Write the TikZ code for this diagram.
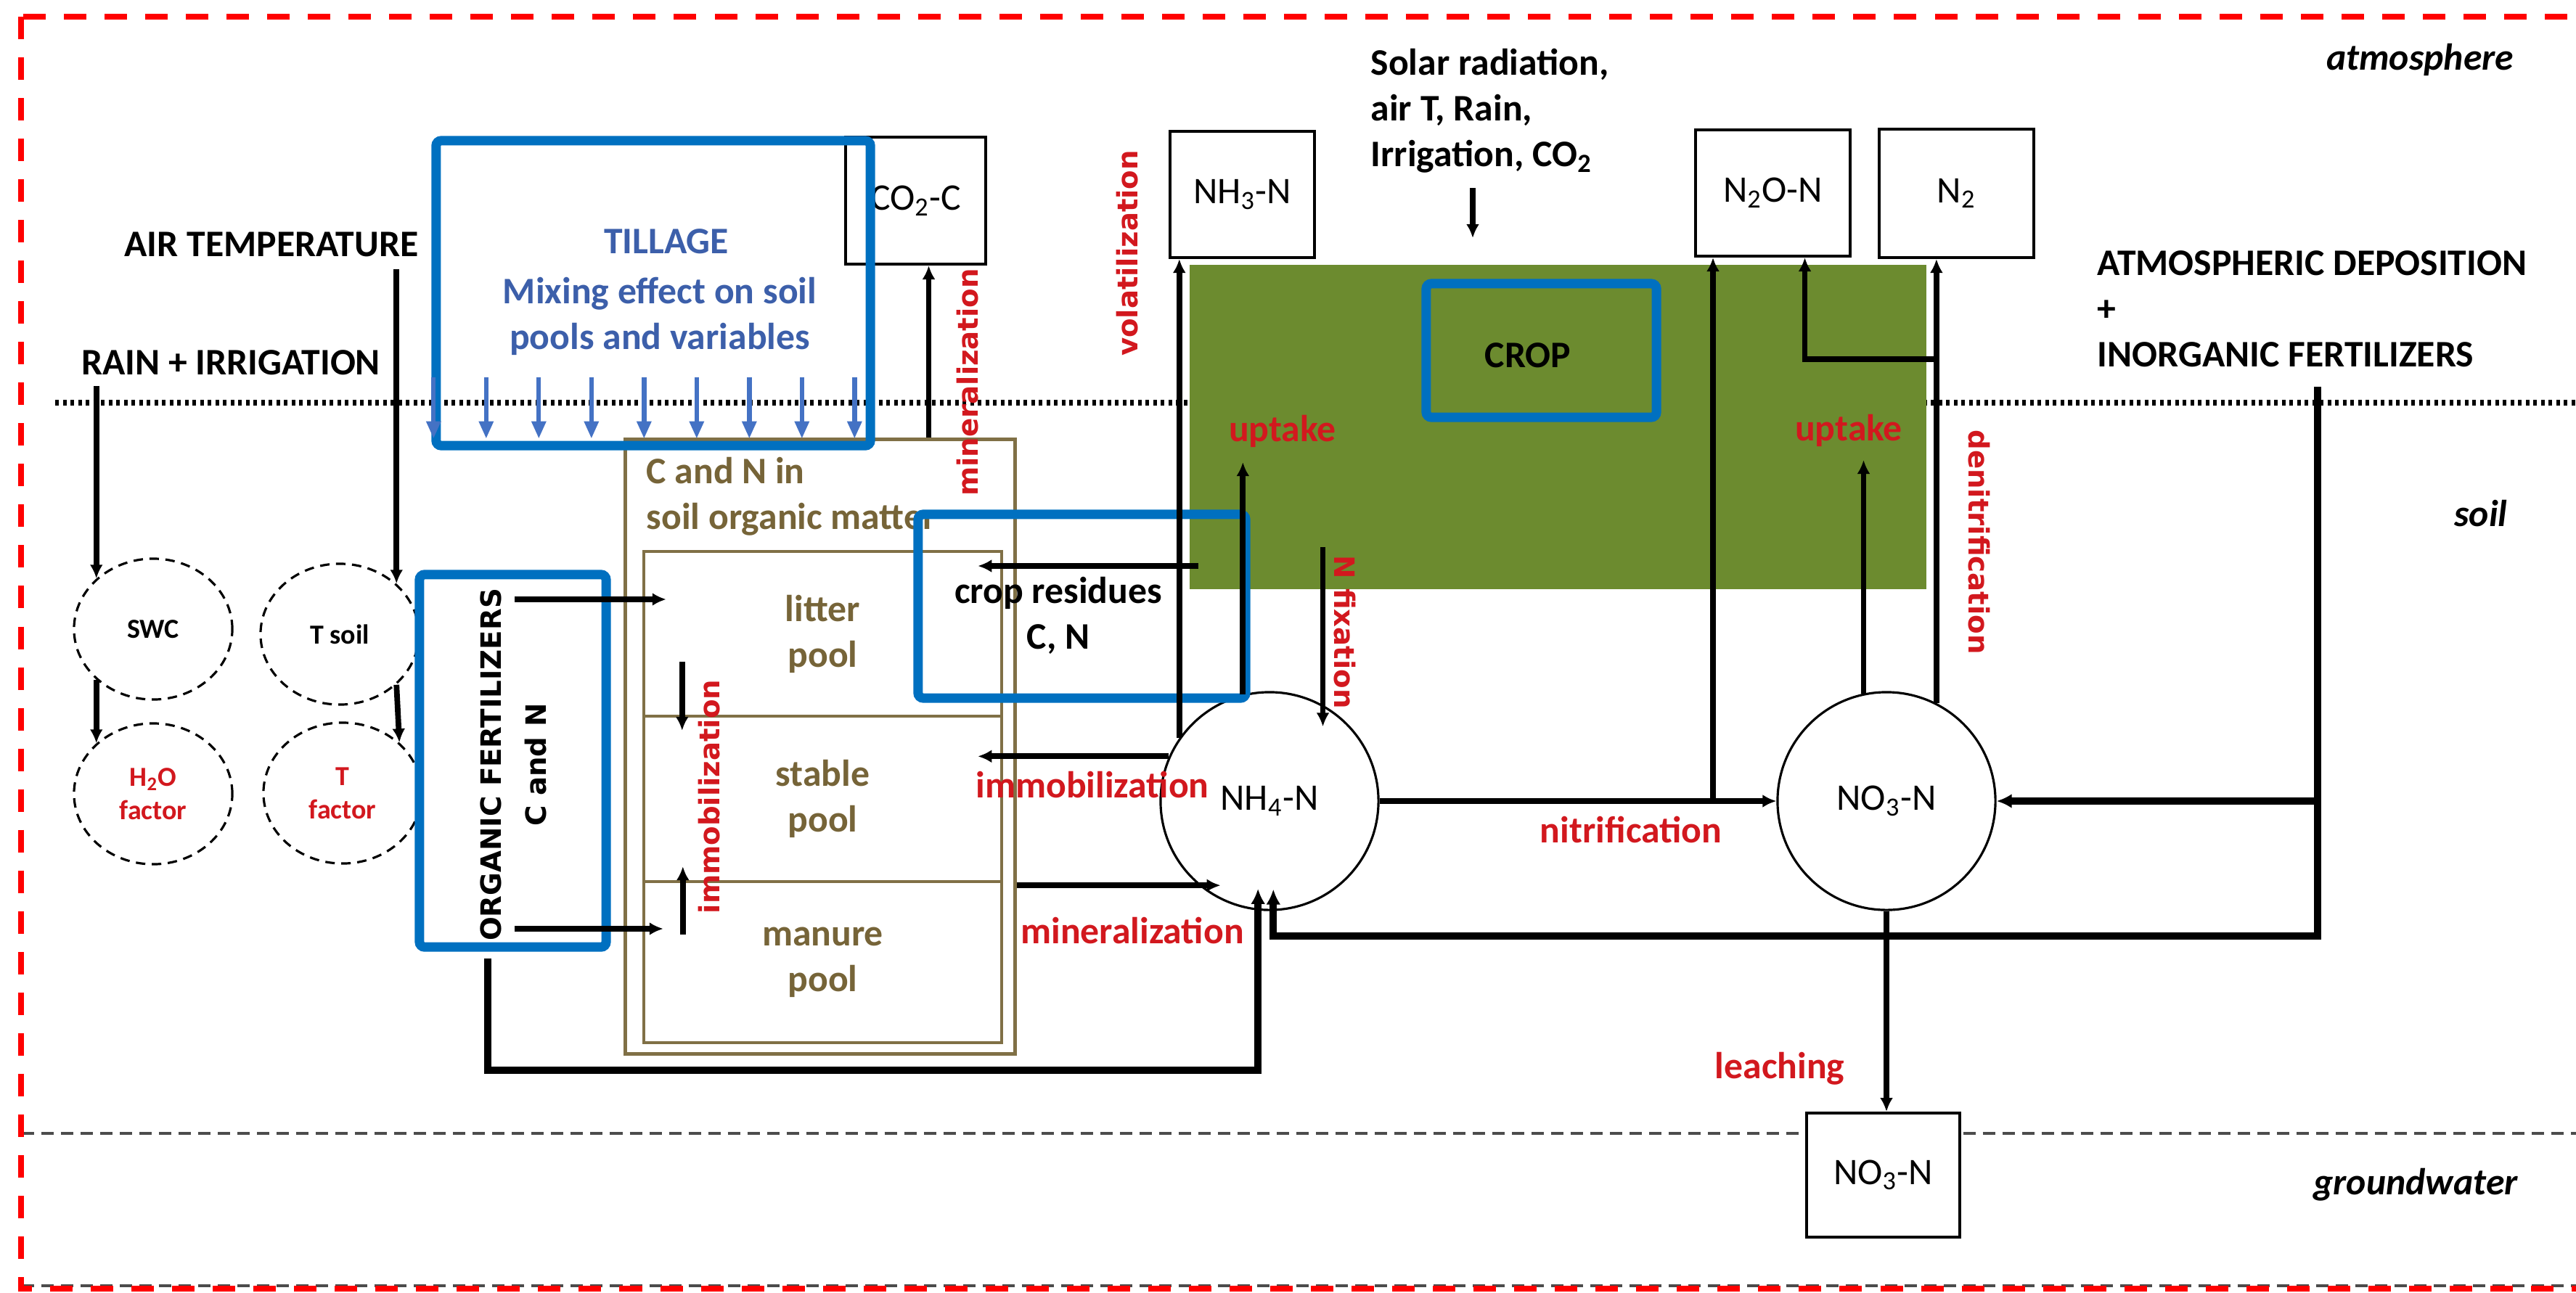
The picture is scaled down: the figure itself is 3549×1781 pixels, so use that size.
\documentclass[tikz,border=0pt]{standalone}
\usepackage{fontspec}
\setmainfont{Carlito}
\newfontfamily\vfont{DejaVu Sans}
\usepackage{tikz}
\usetikzlibrary{positioning, arrows.meta, shapes.geometric, calc}

\definecolor{labred}{RGB}{210,24,30}
\definecolor{hlblue}{RGB}{0,112,192}
\definecolor{tillblue}{RGB}{68,114,196}
\definecolor{tillink}{RGB}{60,95,170}
\definecolor{cropgreen}{RGB}{108,139,47}
\definecolor{somline}{RGB}{128,112,70}
\definecolor{somtext}{RGB}{118,100,56}

\newcommand{\bigf}{\fontsize{14.7}{17.9}\selectfont}
\newcommand{\smallf}{\fontsize{10.8}{13}\selectfont}
\newcommand{\rotf}{\vfont\fontsize{11}{13}\selectfont\bfseries}

\begin{document}
\begin{tikzpicture}[
    x=0.01cm, y=-0.01cm,
    txt/.style = {font=\bigf, inner sep=0pt, align=center},
    boldtxt/.style = {txt, font=\bigf\bfseries},
    layername/.style = {txt, font=\bigf\bfseries\itshape},
    flux/.style = {txt, font=\bigf\bfseries, text=labred},
    rotflux/.style = {txt, font=\rotf, text=labred},
    species/.style = {rectangle, draw, line width=1.1pt, fill=white, font=\bigf, inner sep=0pt},
    mineral/.style = {circle, draw, line width=0.9pt, minimum size=3cm, font=\bigf, inner sep=0pt},
    factor/.style = {ellipse, draw, line width=0.9pt, dash pattern=on 0.13cm off 0.09cm,
        minimum width=2.18cm, minimum height=1.94cm, inner sep=0pt, align=center, font=\smallf\bfseries},
    sompool/.style = {txt, font=\bigf\bfseries, draw=somline, line width=1.2pt, text=somtext, minimum width=4.93cm},
    highlight/.style = {rectangle, draw=hlblue, line width=3.7pt, rounded corners=2pt, inner sep=0pt},
    arr/.style = {line width=2.2pt, -{Latex[length=0.19cm,width=0.18cm]}},
    fatarr/.style = {line width=2.8pt, -{Latex[length=0.21cm,width=0.2cm]}},
    tillarrow/.style = {draw=tillblue, line width=1.8pt, -{Triangle[length=0.24cm,width=0.19cm]}},
    intopool/.style = {shorten >=-0.3cm}
]
\useasboundingbox (0,0) rectangle (3549,1781);

% Layers: soil surface, groundwater table, frame
\draw[line width=2pt, dash pattern=on 0.05cm off 0.055cm] (76,555) -- (3560,555);
\draw[gray!60!black, line width=0.9pt, dash pattern=on 0.17cm off 0.1cm] (30,1562) -- (3560,1562);
\draw[gray!60!black, line width=0.9pt, dash pattern=on 0.17cm off 0.1cm] (30,1772) -- (3560,1772);
\draw[red, line width=2.3pt, dash pattern=on 0.31cm off 0.25cm] (29,23) rectangle (3560,1776);

\node[layername] (atm)  at (3334,82)   {atmosphere};
\node[layername] (soil) at (3418,708)  {soil};
\node[layername] (gw)   at (3328,1633) {groundwater};

% Crop canopy
\node[fill=cropgreen, minimum width=10.15cm, minimum height=4.47cm, inner sep=0pt] (cropzone) at (2146.5,588.5) {};

% Climate drivers and soil factors
\node[boldtxt] (airT) at (374,337) {AIR TEMPERATURE};
\node[boldtxt] (rain) at (318,500) {RAIN + IRRIGATION};
\node[factor] (swc)   at (211,867)  {SWC};
\node[factor] (tsoil) at (468,874)  {T soil};
\node[factor, text=labred] (h2o)  at (211,1094) {H\textsubscript{2}O\\factor};
\node[factor, text=labred] (tfac) at (472,1093) {T\\factor};

% Gas and mineral N pools
\node[species, minimum width=1.93cm, minimum height=1.75cm] (co2) at (1261.5,276.5) {CO\textsubscript{2}-C};
\node[species, minimum width=1.99cm, minimum height=1.74cm] (nh3) at (1711.5,268) {NH\textsubscript{3}-N};
\node[species, minimum width=2.13cm, minimum height=1.74cm] (n2o) at (2442.5,266) {N\textsubscript{2}O-N};
\node[species, minimum width=2.13cm, minimum height=1.77cm] (n2)  at (2695.5,266.5) {N\textsubscript{2}};
\node[species, minimum width=2.11cm, minimum height=1.71cm] (gwno3) at (2594.5,1619.5) {NO\textsubscript{3}-N};
\node[mineral] (nh4) at (1749,1104) {NH\textsubscript{4}-N};
\node[mineral] (no3) at (2599,1104) {NO\textsubscript{3}-N};

% Soil organic matter
\node[draw=somline, line width=1.5pt, minimum width=5.36cm, minimum height=8.46cm, inner sep=0pt] (som) at (1130,1029) {};
\node[txt, font=\bigf\bfseries, text=somtext, anchor=west, align=left] (somcap) at (890,684) {C and N in\\soil organic matter};
\node[sompool, minimum height=2.27cm] (litter) at (1133.5,873.5) {litter\\pool};
\node[sompool, minimum height=2.28cm] (stable) at (1133.5,1101)  {stable\\pool};
\node[sompool, minimum height=2.22cm] (manure) at (1133.5,1326)  {manure\\pool};

% Inputs and drivers
\node[boldtxt, anchor=west, align=left] (solar) at (1888,153) {Solar radiation,\\air T, Rain,\\Irrigation, CO\textsubscript{2}};
\node[boldtxt, anchor=west, align=left] (depo) at (2889,426) {ATMOSPHERIC DEPOSITION\\+\\INORGANIC FERTILIZERS};
\node[boldtxt] (restext)  at (1458,848) {crop residues\\C, N};
\node[boldtxt] (croptext) at (2105,490) {CROP};
\node[txt, font=\rotf, rotate=90] (oftext) at (676,1054) {ORGANIC FERTILIZERS};
\node[txt, font=\rotf, rotate=90] (ofcn)   at (738,1054) {C and N};

% Management highlights
\node[highlight, minimum width=5.98cm, minimum height=4.2cm]  (tillage)  at (900,404) {};
\node[highlight, minimum width=4.51cm, minimum height=2.53cm] (residues) at (1490.5,835.5) {};
\node[highlight, minimum width=3.17cm, minimum height=1.84cm] (crop)     at (2123.5,483) {};
\node[highlight, minimum width=2.57cm, minimum height=5.13cm] (orgfert)  at (706.5,1048.5) {};
\node[boldtxt, text=tillink] (tilltitle) at (918,333) {TILLAGE};
\node[boldtxt, text=tillink] (tilltext)  at (909,436) {Mixing effect on soil\\pools and variables};
\foreach \i in {0,...,8}
    \draw[tillarrow] ($(tillage.south west)+(3+72.5*\i,-101)$) -- ++(0,85);

% Free ends of connectors
\coordinate (solarend) at (2029,328);
\coordinate (ofa) at (709,826);
\coordinate (ofb) at (709,1280);
\coordinate (ofbot) at (672,1321);
\coordinate (ofloop) at (672,1475);
\coordinate (resout) at (1651,780);
\coordinate (upL) at (1713,637);
\coordinate (upR) at (2567,634);
\coordinate (nfix) at (1821,754);
\coordinate (denbr) at (2667,495);
\coordinate (inorg) at (3193,533);
\coordinate (inorgbot) at (3193,1290);

% Climate to soil factors
\draw[arr, shorten <=0.14cm] (rain.south -| swc.north west) -- (swc.north west);
\draw[arr, shorten <=0.16cm] (airT.south -| tsoil.north east) -- (tsoil.north east);
\draw[arr] (swc.south west) -- (h2o.north west);
\draw[arr] (tsoil.south east) -- (tfac.north east);
\draw[arr, shorten <=0.2cm] (solar.south -| solarend) -- (solarend);

% Organic C and N
\draw[arr] (ofa) -- ([xshift=0.33cm]ofa -| litter.west);
\draw[arr] (ofb) -- ([xshift=0.29cm]ofb -| manure.west);
\draw[arr] ([xshift=0.55cm,yshift=0.77cm]litter.south west) -- ([xshift=0.55cm,yshift=-0.22cm]stable.north west);
\draw[arr] ([xshift=0.56cm,yshift=-0.75cm]manure.north west) -- ([xshift=0.56cm,yshift=0.23cm]stable.south west);
\draw[arr] ([xshift=0.18cm]co2.south |- som.north) -- ([xshift=0.18cm]co2.south);
\draw[arr] (resout) -- ([xshift=-0.35cm]resout -| litter.east);

% Mineral N fluxes
\draw[arr] (nh4.145) -- (nh4.145 |- nh3.south);
\draw[arr] (nh4.104) -- (nh4.104 |- upL);
\draw[arr, intopool] (nh4.61 |- nfix) -- (nh4.61);
\draw[arr] (nh4.156) -- ([xshift=-0.35cm]nh4.156 -| stable.east);
\draw[arr, intopool] (som.east |- nh4.230) -- (nh4.230);
\draw[arr] (nh4.east) -- (no3.west);
\draw[arr] ([xshift=0.26cm]n2o.south west |- nh4.east) -- ([xshift=0.26cm]n2o.south west);
\draw[arr] (no3.63) -- (no3.63 |- n2.south);
\draw[arr] (denbr) -| ([xshift=0.44cm]n2o.south);
\draw[arr] (no3.102) -- (no3.102 |- upR);
\draw[arr] (no3.south) -- (no3.south |- gwno3.north);
\draw[fatarr, intopool] (inorg) -- (inorgbot) -| (nh4.272);
\draw[fatarr] (inorg |- no3.east) -- (no3.east);
\draw[fatarr, intopool] (ofbot) -- (ofloop) -| (nh4.264);

% Flux labels
\node[rotflux, rotate=90]  (lvol)  at (1553,349)  {volatilization};
\node[rotflux, rotate=90]  (lmin)  at (1333,527)  {mineralization};
\node[rotflux, rotate=90]  (limv)  at (977,1098)  {immobilization};
\node[rotflux, rotate=-90] (lfix)  at (1853,871)  {N fixation};
\node[rotflux, rotate=-90] (lden)  at (2727,747)  {denitrification};
\node[flux] (lupL)  at (1767,594)  {uptake};
\node[flux] (lupR)  at (2547,593)  {uptake};
\node[flux] (limh)  at (1505,1081) {immobilization};
\node[flux] (lminh) at (1560,1282) {mineralization};
\node[flux] (lnit)  at (2247,1143) {nitrification};
\node[flux] (lleach) at (2452,1473) {leaching};

\end{tikzpicture}
\end{document}
